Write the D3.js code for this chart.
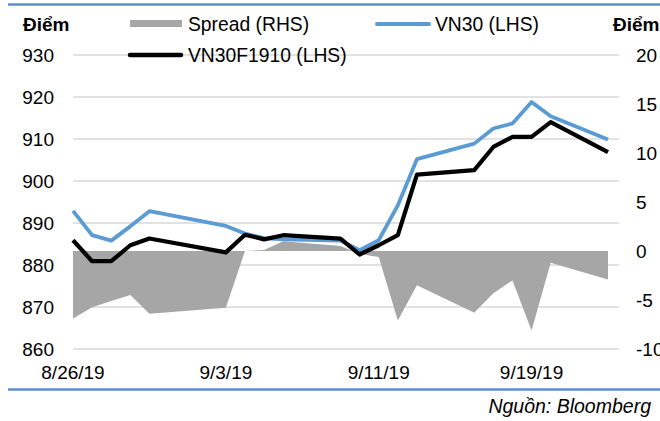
<!DOCTYPE html>
<html>
<head>
<meta charset="utf-8">
<script src="https://cdn.jsdelivr.net/npm/d3@7"></script>
<style>
  body { margin: 0; background: #fff; }
  svg { display: block; font-family: "Liberation Sans", Arial, sans-serif; }
</style>
</head>
<body>
<div id="chart"></div>
<script>
// trading days (9/2 holiday, weekends skipped)
var days = ["2019-08-26", "2019-08-27", "2019-08-28", "2019-08-29", "2019-08-30",
            "2019-09-03", "2019-09-04", "2019-09-05", "2019-09-06",
            "2019-09-09", "2019-09-10", "2019-09-11", "2019-09-12", "2019-09-13",
            "2019-09-16", "2019-09-17", "2019-09-18", "2019-09-19", "2019-09-20",
            "2019-09-23"];
var vn30 = [892.9, 887.1, 885.8, 889.2, 892.8, 889.3, 887.5, 886.4, 886.1,
            885.8, 883.5, 885.9, 894.2, 905.2, 908.9, 912.5, 913.7, 918.8, 915.4,
            909.9];
var vn30f = [885.9, 880.9, 880.9, 884.7, 886.3, 883.0, 887.2, 886.1, 887.1,
             886.3, 882.5, 884.7, 887.1, 901.5, 902.6, 908.1, 910.5, 910.5, 914.0,
             906.9];
var spread = [-6.9, -5.75, -5.1, -4.5, -6.4, -5.8, 0, 0.1, 1.0,
              0.5, -0.3, -0.6, -7.1, -3.5, -6.3, -4.3, -3.0, -8.1, -1.2,
              -2.9];
var leftTicks = [860, 870, 880, 890, 900, 910, 920, 930];
var rightTicks = [-10, -5, 0, 5, 10, 15, 20];
var xTickLabels = ["8/26/19", "9/3/19", "9/11/19", "9/19/19"];
var legendItems = ["Spread (RHS)", "VN30 (LHS)", "VN30F1910 (LHS)"];

var W = 660, H = 421;
var parse = d3.timeParse("%Y-%m-%d");
var dates = days.map(parse);

var x = d3.scaleTime()
    .domain([dates[0], dates[dates.length - 1]])
    .range([73, 608]);
var gridRight = 619;
var yL = d3.scaleLinear().domain([860, 930]).range([349, 55]);
var yR = d3.scaleLinear().domain([-10, 20]).range([349, 55]);

var svg = d3.select("#chart").append("svg")
    .attr("width", W)
    .attr("height", H);

// frame lines
svg.append("line").attr("x1", 8).attr("x2", W).attr("y1", 4.5).attr("y2", 4.5)
    .attr("stroke", "#5b8fd0").attr("stroke-width", 2.5);
svg.append("line").attr("x1", 8).attr("x2", W).attr("y1", 389.5).attr("y2", 389.5)
    .attr("stroke", "#5b8fd0").attr("stroke-width", 2.5);

// gridlines
svg.append("g").selectAll("line")
    .data(leftTicks)
    .enter().append("line")
      .attr("x1", x.range()[0]).attr("x2", gridRight)
      .attr("y1", function(d) { return yL(d); })
      .attr("y2", function(d) { return yL(d); })
      .attr("stroke", "#d9d9d9").attr("stroke-width", 1.3);

// spread area
var area = d3.area()
    .x(function(d, i) { return x(dates[i]); })
    .y0(yR(0))
    .y1(function(d) { return yR(d); });
svg.append("path")
    .datum(spread)
    .attr("d", area)
    .attr("fill", "#a6a6a6");

var line = d3.line()
    .x(function(d, i) { return x(dates[i]); })
    .y(function(d) { return yL(d); });

svg.append("path").datum(vn30)
    .attr("d", line)
    .attr("fill", "none")
    .attr("stroke", "#5b9bd5")
    .attr("stroke-width", 3.8)
    .attr("stroke-linejoin", "round");

svg.append("path").datum(vn30f)
    .attr("d", line)
    .attr("fill", "none")
    .attr("stroke", "#000")
    .attr("stroke-width", 4.2)
    .attr("stroke-linejoin", "round");

// left axis labels
svg.append("g").selectAll("text")
    .data(leftTicks)
    .enter().append("text")
      .attr("x", 54)
      .attr("y", function(d) { return yL(d); })
      .attr("dy", "0.36em")
      .attr("text-anchor", "end")
      .attr("font-size", 19)
      .text(function(d) { return d; });

// right axis labels
svg.append("g").selectAll("text")
    .data(rightTicks)
    .enter().append("text")
      .attr("x", 636)
      .attr("y", function(d) { return yR(d); })
      .attr("dy", "0.36em")
      .attr("font-size", 19)
      .text(function(d) { return d; });

// x labels every 8 days
svg.append("g").selectAll("text")
    .data(xTickLabels)
    .enter().append("text")
      .attr("x", function(d, i) { return x(d3.timeDay.offset(dates[0], 8 * i)); })
      .attr("y", 379)
      .attr("text-anchor", "middle")
      .attr("font-size", 19)
      .text(function(d) { return d; });

// unit titles
svg.append("text").attr("x", 23).attr("y", 31)
    .attr("font-size", 19).attr("font-weight", "bold").text("Điểm");
svg.append("text").attr("x", 613).attr("y", 31)
    .attr("font-size", 19).attr("font-weight", "bold").text("Điểm");

// legend
var lg = svg.append("g");
lg.append("rect").attr("x", 130).attr("y", 20).attr("width", 52).attr("height", 7)
    .attr("fill", "#a6a6a6");
lg.append("text").attr("x", 188).attr("y", 31).attr("font-size", 19.3).text(legendItems[0]);

lg.append("line").attr("x1", 377).attr("x2", 429).attr("y1", 24).attr("y2", 24)
    .attr("stroke", "#5b9bd5").attr("stroke-width", 4).attr("stroke-linecap", "round");
lg.append("text").attr("x", 435).attr("y", 31).attr("font-size", 19.3).text(legendItems[1]);

lg.append("line").attr("x1", 130).attr("x2", 181).attr("y1", 55).attr("y2", 55)
    .attr("stroke", "#000").attr("stroke-width", 4.5).attr("stroke-linecap", "round");
lg.append("text").attr("x", 188).attr("y", 62).attr("font-size", 19.3).text(legendItems[2]);

// source
svg.append("text").attr("x", 651).attr("y", 413)
    .attr("text-anchor", "end")
    .attr("font-size", 19.5)
    .attr("font-style", "italic")
    .text("Nguồn: Bloomberg");
</script>
</body>
</html>
